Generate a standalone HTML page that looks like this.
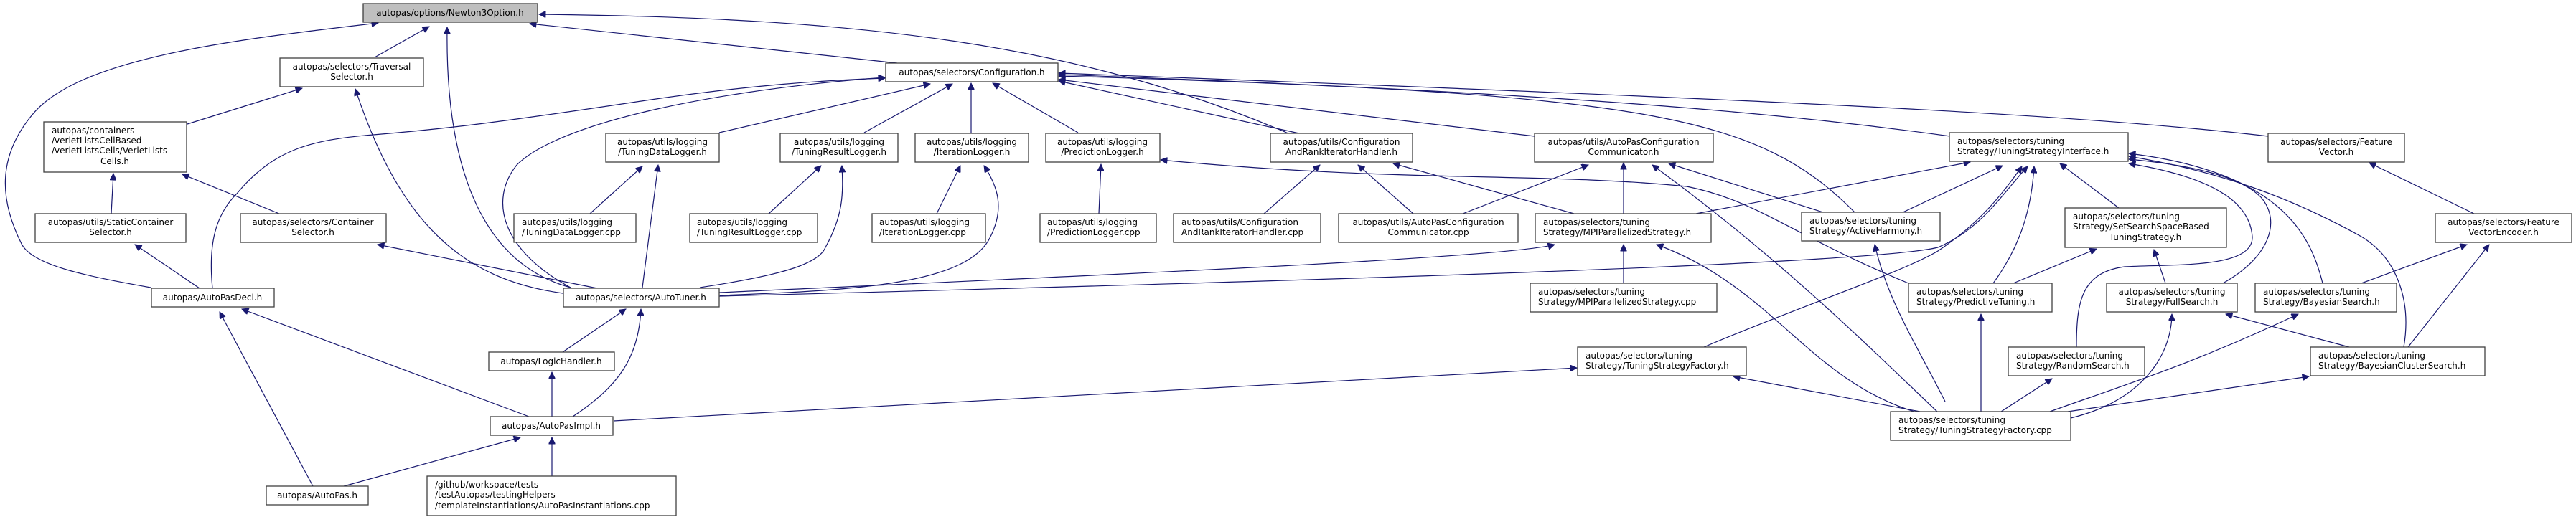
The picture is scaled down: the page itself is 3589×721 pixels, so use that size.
<!DOCTYPE html>
<html><head><meta charset="utf-8"><style>
html,body{margin:0;padding:0;background:#fff;}
svg{display:block;}
text{font-family:"DejaVu Sans","Liberation Sans",sans-serif;font-size:12px;fill:#000;}
.n rect{fill:#fff;stroke:#404040;stroke-width:1.3;}
.e{fill:none;stroke:#191970;stroke-width:1.2;}
</style></head><body>
<svg width="3589" height="721" viewBox="0 0 3589 721" xmlns="http://www.w3.org/2000/svg">
<defs><marker id="a" viewBox="0 0 10 10" refX="10" refY="5" markerWidth="11" markerHeight="9" markerUnits="userSpaceOnUse" orient="auto"><path d="M0,0 L10,5 L0,10 z" fill="#191970" stroke="#191970"/></marker></defs>
<g class="e" marker-end="url(#a)">
<!-- to Newton3Option -->
<path d="M522,80 L598,37"/>
<path d="M210,401 C120,385 45,370 30,340 C0,280 -5,220 45,160 C110,80 330,55 527,32"/>
<path d="M795,401 C680,370 620,250 623,38"/>
<path d="M1250,88 L738,33"/>
<path d="M1795,186 C1500,60 1200,25 751,20"/>
<!-- Traversal selector -->
<path d="M261,173 L421,123"/>
<path d="M784,409 C650,390 560,320 495,124"/>
<!-- VLC -->
<path d="M155,298 L158,242"/>
<path d="M389,298 L254,243"/>
<path d="M278,402 L188,341"/>
<path d="M832,402 L526,341"/>
<!-- AutoPasDecl -->
<path d="M296,402 C290,340 300,300 330,270 C380,210 430,195 520,188 C620,180 700,170 900,140 C1050,118 1150,112 1233,109"/>
<path d="M737,581 L337,431"/>
<path d="M436,678 L306,435"/>
<!-- AutoTuner -->
<path d="M795,401 C700,350 680,280 720,230 C780,170 1000,125 1233,108"/>
<path d="M784,491 L872,431"/>
<path d="M798,581 C860,540 890,500 893,431"/>
<path d="M769,581 L769,519"/>
<path d="M479,678 L725,610"/>
<path d="M769,664 L769,610"/>
<path d="M855,587 L2197,513"/>
<!-- loggers -->
<path d="M1002,185 L1296,117"/>
<path d="M822,298 L895,232"/>
<path d="M895,401 L917,230"/>
<path d="M1204,185 L1327,117"/>
<path d="M1071,298 L1144,231"/>
<path d="M975,401 C1080,385 1140,370 1150,345 C1175,300 1175,270 1173,231"/>
<path d="M1353,185 L1353,116"/>
<path d="M1305,298 L1338,231"/>
<path d="M1003,412 C1200,405 1350,395 1380,330 C1400,290 1390,260 1371,231"/>
<path d="M1502,185 L1383,116"/>
<path d="M1531,298 L1534,229"/>
<path d="M2659,395 C2500,330 2450,280 2350,260 C2150,240 1950,255 1617,223"/>
<!-- to Configuration from right -->
<path d="M1810,186 L1475,113"/>
<path d="M2138,190 L1475,111"/>
<path d="M2717,190 C2500,160 2200,130 1475,104"/>
<path d="M3160,190 C2900,160 2500,140 1475,102"/>
<path d="M2586,298 C2450,160 2300,130 1475,106"/>
<!-- CARI -->
<path d="M1761,298 L1839,230"/>
<path d="M1969,298 L1892,230"/>
<path d="M2193,298 L1941,228"/>
<!-- APCC -->
<path d="M2038,298 L2213,230"/>
<path d="M2262,298 L2262,227"/>
<path d="M2546,298 L2325,228"/>
<path d="M2700,575 C2600,480 2480,360 2302,230"/>
<!-- MPI -->
<path d="M2262,395 L2262,341"/>
<path d="M1002,408 C1500,385 2100,360 2166,341"/>
<path d="M2670,575 C2520,530 2470,400 2308,341"/>
<path d="M2363,298 L2745,226"/>
<!-- ActiveHarmony -->
<path d="M2647,298 L2790,231"/>
<path d="M2710,560 C2670,480 2630,420 2612,341"/>
<!-- TSF.h -->
<path d="M2374,484 C2500,430 2650,380 2700,350 C2760,310 2790,270 2817,232"/>
<path d="M2675,574 L2415,525"/>
<!-- AutoTuner -> TSI -->
<path d="M1002,413 C1700,395 2600,370 2700,345 C2760,320 2790,270 2825,232"/>
<!-- PT -->
<path d="M2777,395 C2810,350 2830,300 2834,232"/>
<path d="M2805,395 L2921,347"/>
<path d="M2760,574 L2760,438"/>
<!-- SS / TSI -->
<path d="M2952,290 L2870,228"/>
<path d="M2893,484 C2893,420 2900,380 2960,372 C3030,368 3140,375 3138,330 C3135,290 3100,250 2966,228"/>
<path d="M3097,395 C3160,360 3180,310 3150,275 C3120,245 3050,230 2966,222"/>
<path d="M3236,395 C3220,330 3180,240 2966,214"/>
<path d="M3349,484 C3360,420 3340,360 3290,330 C3200,280 3100,240 2966,218"/>
<path d="M3017,395 L3001,348"/>
<!-- FullSearch etc -->
<path d="M3273,484 L3101,438"/>
<path d="M2885,583 C2980,560 3025,500 3026,438"/>
<path d="M2856,574 C2950,540 3050,510 3202,438"/>
<path d="M2881,574 L3217,525"/>
<path d="M3355,484 L3468,341"/>
<path d="M3290,395 L3437,341"/>
<path d="M3447,298 L3301,227"/>
<path d="M2788,574 L2859,528"/>
</g>
<g class="n">
<rect x="506" y="5" width="243" height="26" style="fill:#bfbfbf"/><text x="627" y="22" text-anchor="middle">autopas/options/Newton3Option.h</text>
<rect x="390" y="81" width="200" height="40"/><text x="490" y="97" text-anchor="middle">autopas/selectors/Traversal</text><text x="490" y="111" text-anchor="middle">Selector.h</text>
<rect x="61" y="170" width="199" height="70"/><text x="72" y="186">autopas/containers</text><text x="72" y="200">/verletListsCellBased</text><text x="72" y="214">/verletListsCells/VerletLists</text><text x="160" y="229" text-anchor="middle">Cells.h</text>
<rect x="49" y="298" width="210" height="40"/><text x="154" y="314" text-anchor="middle">autopas/utils/StaticContainer</text><text x="154" y="328" text-anchor="middle">Selector.h</text>
<rect x="335" y="298" width="203" height="40"/><text x="436" y="314" text-anchor="middle">autopas/selectors/Container</text><text x="436" y="328" text-anchor="middle">Selector.h</text>
<rect x="211" y="402" width="171" height="26"/><text x="296" y="419" text-anchor="middle">autopas/AutoPasDecl.h</text>
<rect x="785" y="402" width="217" height="26"/><text x="893" y="419" text-anchor="middle">autopas/selectors/AutoTuner.h</text>
<rect x="681" y="491" width="175" height="26"/><text x="768" y="508" text-anchor="middle">autopas/LogicHandler.h</text>
<rect x="683" y="581" width="171" height="26"/><text x="768" y="598" text-anchor="middle">autopas/AutoPasImpl.h</text>
<rect x="371" y="678" width="142" height="26"/><text x="442" y="695" text-anchor="middle">autopas/AutoPas.h</text>
<rect x="595" y="664" width="347" height="55"/><text x="606" y="680">/github/workspace/tests</text><text x="606" y="694">/testAutopas/testingHelpers</text><text x="606" y="709">/templateInstantiations/AutoPasInstantiations.cpp</text>
<rect x="844" y="186" width="158" height="40"/><text x="923" y="202" text-anchor="middle">autopas/utils/logging</text><text x="923" y="216" text-anchor="middle">/TuningDataLogger.h</text>
<rect x="716" y="298" width="170" height="40"/><text x="727" y="314">autopas/utils/logging</text><text x="727" y="328">/TuningDataLogger.cpp</text>
<rect x="1234" y="88" width="240" height="26"/><text x="1354" y="105" text-anchor="middle">autopas/selectors/Configuration.h</text>
<rect x="1087" y="186" width="164" height="40"/><text x="1169" y="202" text-anchor="middle">autopas/utils/logging</text><text x="1169" y="216" text-anchor="middle">/TuningResultLogger.h</text>
<rect x="1275" y="186" width="158" height="40"/><text x="1354" y="202" text-anchor="middle">autopas/utils/logging</text><text x="1354" y="216" text-anchor="middle">/IterationLogger.h</text>
<rect x="1457" y="186" width="159" height="40"/><text x="1536" y="202" text-anchor="middle">autopas/utils/logging</text><text x="1536" y="216" text-anchor="middle">/PredictionLogger.h</text>
<rect x="961" y="298" width="178" height="40"/><text x="971" y="314">autopas/utils/logging</text><text x="971" y="328">/TuningResultLogger.cpp</text>
<rect x="1215" y="298" width="158" height="40"/><text x="1225" y="314">autopas/utils/logging</text><text x="1225" y="328">/IterationLogger.cpp</text>
<rect x="1449" y="298" width="162" height="40"/><text x="1459" y="314">autopas/utils/logging</text><text x="1459" y="328">/PredictionLogger.cpp</text>
<rect x="1635" y="298" width="205" height="40"/><text x="1646" y="314">autopas/utils/Configuration</text><text x="1646" y="328">AndRankIteratorHandler.cpp</text>
<rect x="1770" y="186" width="198" height="40"/><text x="1869" y="202" text-anchor="middle">autopas/utils/Configuration</text><text x="1869" y="216" text-anchor="middle">AndRankIteratorHandler.h</text>
<rect x="2138" y="186" width="249" height="40"/><text x="2262" y="202" text-anchor="middle">autopas/utils/AutoPasConfiguration</text><text x="2262" y="216" text-anchor="middle">Communicator.h</text>
<rect x="1865" y="298" width="250" height="40"/><text x="1990" y="314" text-anchor="middle">autopas/utils/AutoPasConfiguration</text><text x="1990" y="328" text-anchor="middle">Communicator.cpp</text>
<rect x="2139" y="298" width="245" height="40"/><text x="2150" y="314">autopas/selectors/tuning</text><text x="2150" y="328">Strategy/MPIParallelizedStrategy.h</text>
<rect x="2132" y="395" width="260" height="40"/><text x="2143" y="411">autopas/selectors/tuning</text><text x="2143" y="425">Strategy/MPIParallelizedStrategy.cpp</text>
<rect x="2198" y="484" width="235" height="40"/><text x="2209" y="500">autopas/selectors/tuning</text><text x="2209" y="514">Strategy/TuningStrategyFactory.h</text>
<rect x="2510" y="296" width="193" height="40"/><text x="2521" y="312">autopas/selectors/tuning</text><text x="2521" y="326">Strategy/ActiveHarmony.h</text>
<rect x="2659" y="395" width="200" height="40"/><text x="2670" y="411">autopas/selectors/tuning</text><text x="2670" y="425">Strategy/PredictiveTuning.h</text>
<rect x="2634" y="574" width="251" height="40"/><text x="2645" y="590">autopas/selectors/tuning</text><text x="2645" y="604">Strategy/TuningStrategyFactory.cpp</text>
<rect x="2716" y="185" width="249" height="40"/><text x="2727" y="201">autopas/selectors/tuning</text><text x="2727" y="215">Strategy/TuningStrategyInterface.h</text>
<rect x="3160" y="186" width="190" height="40"/><text x="3255" y="202" text-anchor="middle">autopas/selectors/Feature</text><text x="3255" y="216" text-anchor="middle">Vector.h</text>
<rect x="2877" y="290" width="225" height="55"/><text x="2888" y="306">autopas/selectors/tuning</text><text x="2888" y="320">Strategy/SetSearchSpaceBased</text><text x="2989" y="335" text-anchor="middle">TuningStrategy.h</text>
<rect x="3393" y="298" width="190" height="40"/><text x="3488" y="314" text-anchor="middle">autopas/selectors/Feature</text><text x="3488" y="328" text-anchor="middle">VectorEncoder.h</text>
<rect x="2935" y="395" width="182" height="40"/><text x="3026" y="411" text-anchor="middle">autopas/selectors/tuning</text><text x="3026" y="425" text-anchor="middle">Strategy/FullSearch.h</text>
<rect x="3142" y="395" width="197" height="40"/><text x="3153" y="411">autopas/selectors/tuning</text><text x="3153" y="425">Strategy/BayesianSearch.h</text>
<rect x="2798" y="484" width="190" height="40"/><text x="2809" y="500">autopas/selectors/tuning</text><text x="2809" y="514">Strategy/RandomSearch.h</text>
<rect x="3219" y="484" width="243" height="40"/><text x="3230" y="500">autopas/selectors/tuning</text><text x="3230" y="514">Strategy/BayesianClusterSearch.h</text>
</g>
</svg>
</body></html>
